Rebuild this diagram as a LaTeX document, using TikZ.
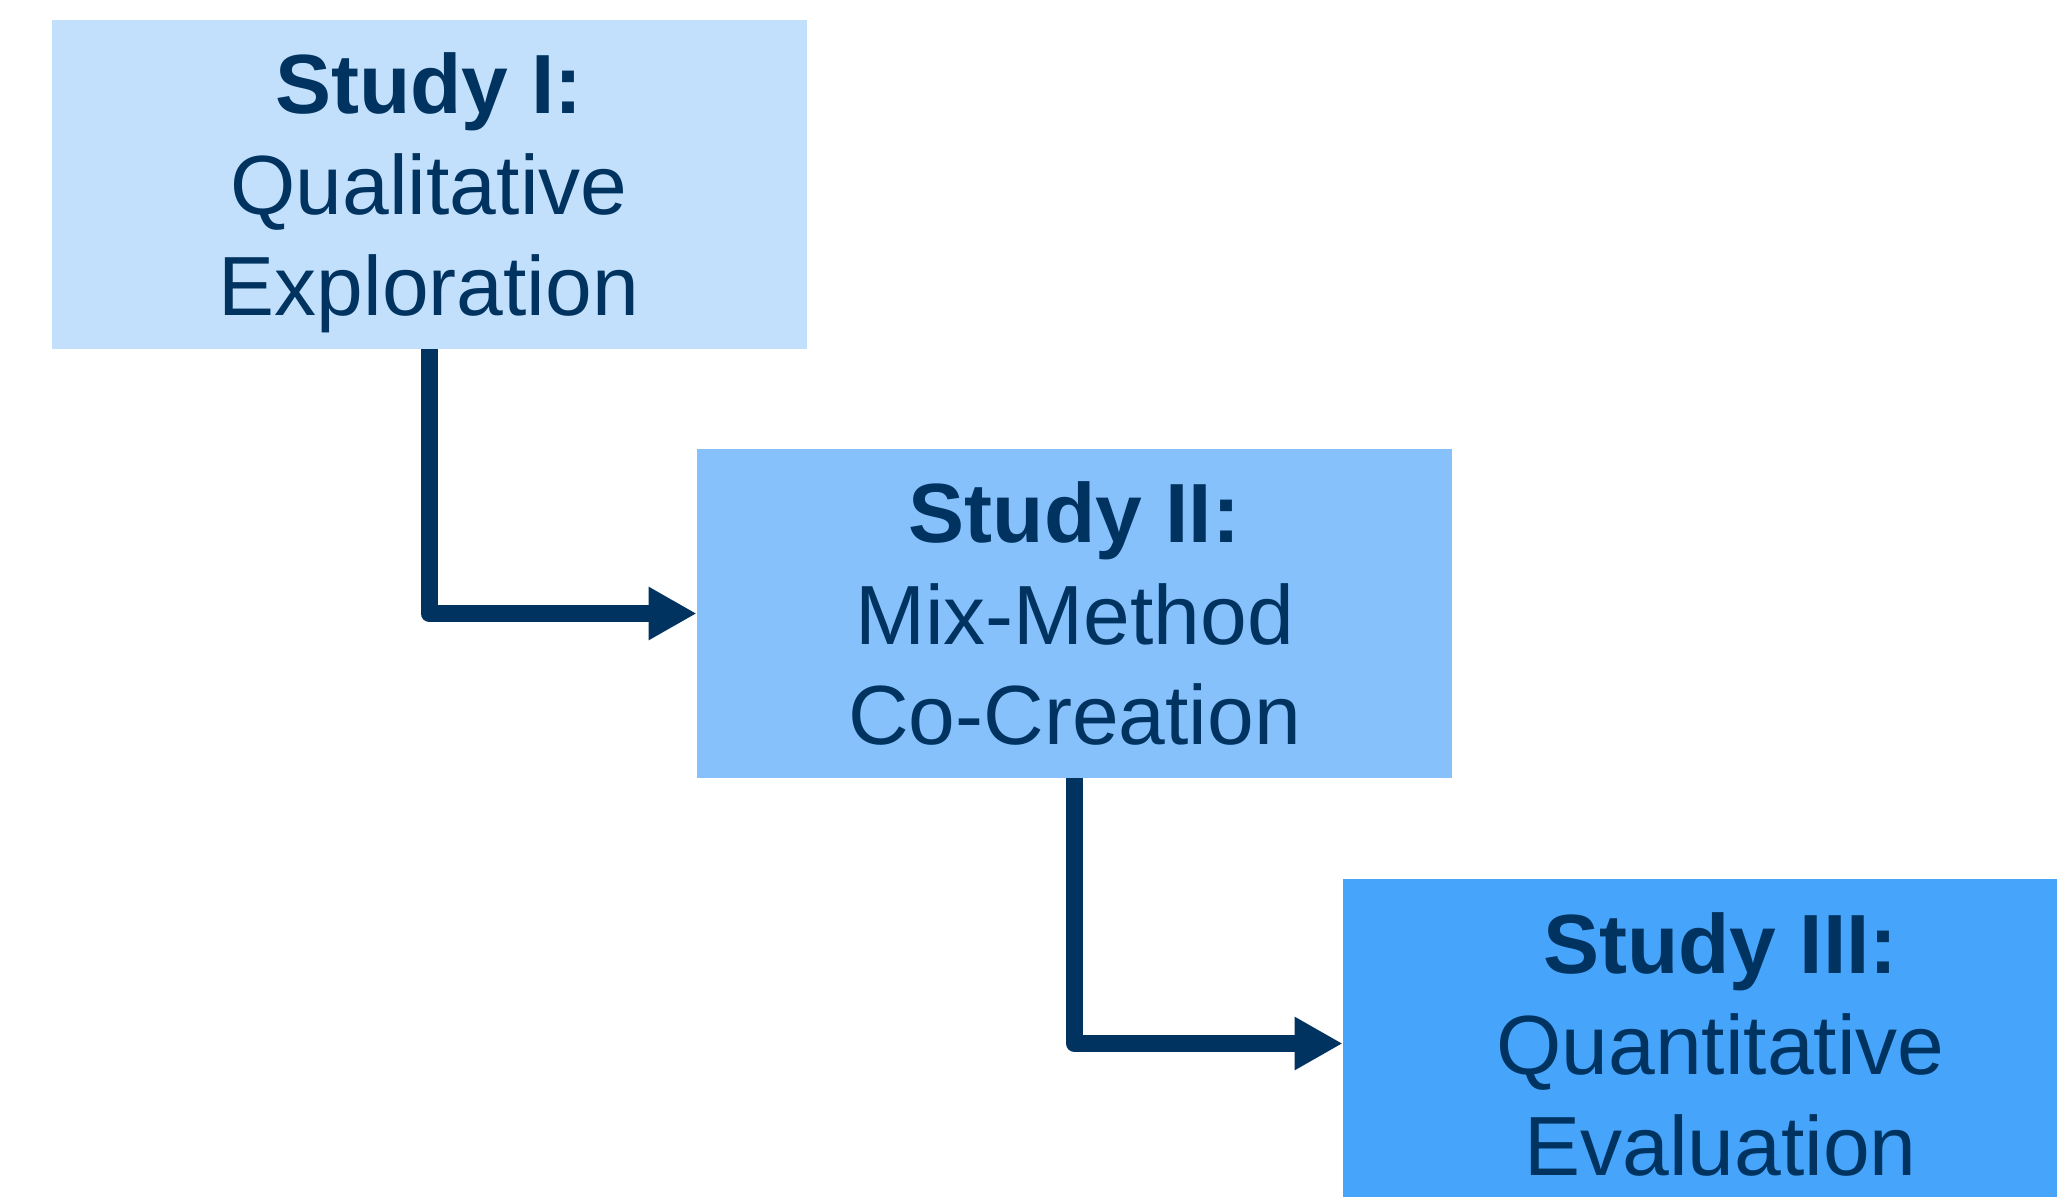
\documentclass[tikz,border=0pt]{standalone}
\usepackage{fontspec}
\setmainfont{Liberation Sans}
\usetikzlibrary{arrows.meta}
\definecolor{navy}{HTML}{00335F}
\definecolor{paleblue}{HTML}{C2E0FC}
\definecolor{midblue}{HTML}{86C1FC}
\definecolor{deepblue}{HTML}{46A4FB}
\tikzset{
  studybox/.style={fill=#1, draw=none, minimum width=377.5pt, minimum height=164.5pt,
    text=navy, align=center, inner sep=0pt, font=\fontsize{42}{50.5}\selectfont,
    text height=140.5pt, text depth=9pt},
  flow/.style={draw=navy, line width=8.5pt, line join=round,
    -{Triangle[length=24pt,width=25pt]}}
}
\begin{document}
\begin{tikzpicture}[x=0.5pt,y=-0.5pt]
        \useasboundingbox (0,0) rectangle (2057,1197);
        \clip (0,0) rectangle (2057,1197);

        \node [studybox=paleblue] (s1) at (429,184.5) {\textbf{Study I:}\\Qualitative\\Exploration};
        \node [studybox=midblue] (s2) at (1074.5,613.5) {\textbf{Study II:}\\Mix-Method\\Co-Creation};
        \node [studybox=deepblue] (s3) at (1720.5,1043.5) {\textbf{Study III:}\\Quantitative\\Evaluation};

        \draw [flow] (s1.south) |- (s2.west);
        \draw [flow] (s2.south) |- (s3.west);
\end{tikzpicture}
\end{document}
